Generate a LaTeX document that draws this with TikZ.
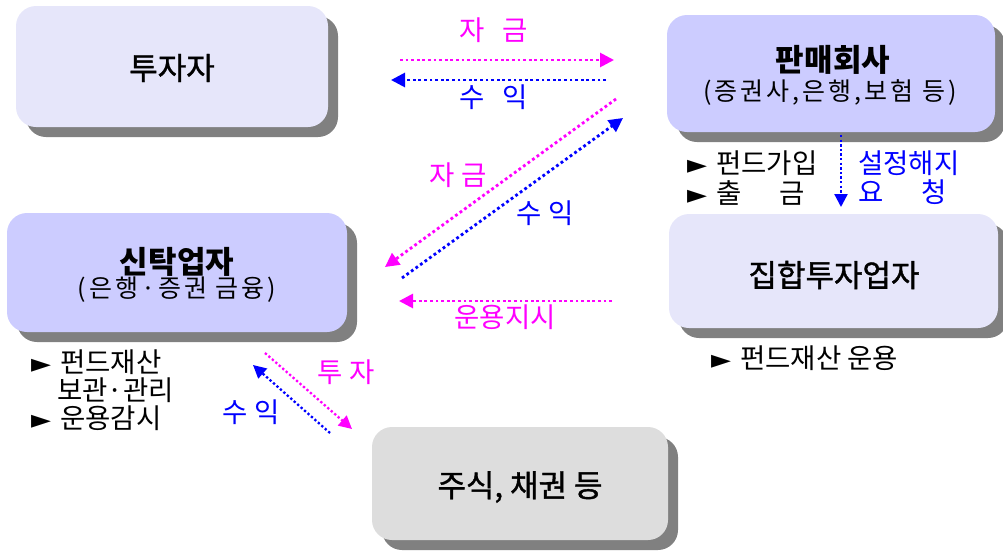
\documentclass[tikz,border=0pt]{standalone}
\usepackage{fontspec}
\setmainfont{Noto Sans CJK KR}
\newfontfamily\krmed[FakeBold=1.2]{Noto Sans CJK KR}
\newfontfamily\subf[LetterSpace=12]{Noto Sans CJK KR}
\newfontfamily\symf{DejaVu Sans}
\usetikzlibrary{arrows.meta,shadows}
\definecolor{lav}{RGB}{230,230,250}
\definecolor{peri}{RGB}{204,204,255}
\definecolor{lgray}{RGB}{221,221,221}
\definecolor{shad}{RGB}{128,128,128}
\definecolor{mag}{RGB}{255,0,255}
\definecolor{blu}{RGB}{0,0,255}
\newcommand{\bul}{{\symf\fontsize{26}{28}\selectfont ►}}
\begin{document}
\begin{tikzpicture}[x=1pt,y=-1pt,
  box/.style={rounded corners=20pt, inner sep=0pt,
    general shadow={fill=shad, shadow xshift=10pt, shadow yshift=-10pt}},
  ttl/.style={inner sep=0pt, font=\krmed\fontsize{31}{34}\selectfont},
  btl/.style={inner sep=0pt, font=\bfseries\fontsize{31}{34}\selectfont},
  sub/.style={inner sep=0pt, font=\subf\fontsize{25}{28}\selectfont},
  lab/.style={inner sep=0pt, font=\fontsize{27.5}{30}\selectfont},
  note/.style={inner sep=0pt, anchor=west, font=\fontsize{27.5}{30}\selectfont},
  arr/.style={line width=2.8pt, dash pattern=on 2.8pt off 2.8pt,
    -{Triangle[length=14pt,width=14pt]}},
  arrs/.style={line width=2.3pt, dash pattern=on 2.3pt off 2.3pt,
    -{Triangle[length=13pt,width=13pt]}}
]
\useasboundingbox (0,0) rectangle (1003,552);
\clip (0,0) rectangle (1003,552);

% boxes
\node[box, fill=lav, minimum width=312pt, minimum height=121pt] (inv) at (172,66.5) {};
\node[box, fill=peri, minimum width=328pt, minimum height=117pt] (sales) at (831,73.5) {};
\node[box, fill=peri, minimum width=340pt, minimum height=119pt] (trust) at (177,272.5) {};
\node[box, fill=lav, minimum width=329pt, minimum height=114pt] (cim) at (833.5,271) {};
\node[box, fill=lgray, minimum width=296pt, minimum height=113pt] (sec) at (520,483.5) {};

% box texts
\node[ttl] (invT) at (172,68) {투자자};
\node[btl] (salesT) at (833,60) {판매회사};
\node[sub] (salesS) at (830,93) {(증권사,은행,보험 등)};
\node[btl] (trustT) at (177,262) {신탁업자};
\node[sub] (trustS) at (177,290) {(은행·증권 금융)};
\node[ttl] (cimT) at (834,275) {집합투자업자};
\node[ttl] (secT) at (520,487) {주식, 채권 등};

% connector end points
\coordinate (p1s) at (400,60);  \coordinate (p1e) at (614,60);
\coordinate (p2s) at (606,80);  \coordinate (p2e) at (391,80);
\coordinate (p3s) at (616,99);  \coordinate (p3e) at (385,267);
\coordinate (p4s) at (402,278); \coordinate (p4e) at (623,118);
\coordinate (p5s) at (612,301); \coordinate (p5e) at (399,301);
\coordinate (p6s) at (841,135); \coordinate (p6e) at (841,207);
\coordinate (p7s) at (265,353); \coordinate (p7e) at (352,429);
\coordinate (p8s) at (330,433); \coordinate (p8e) at (253,365);

\draw[arr, mag] (p1s) -- (p1e);
\draw[arr, blu] (p2s) -- (p2e);
\draw[arr, mag] (p3s) -- (p3e);
\draw[arr, blu] (p4s) -- (p4e);
\draw[arr, mag] (p5s) -- (p5e);
\draw[arrs, blu] (p6s) -- (p6e);
\draw[arrs, mag] (p7s) -- (p7e);
\draw[arrs, blu] (p8s) -- (p8e);

% connector labels
\node[lab, mag, execute at begin node={\spaceskip=17pt\relax}] (l1) at (493.5,30) {자 금};
\node[lab, blu, execute at begin node={\spaceskip=17pt\relax}] (l2) at (493.5,97) {수 익};
\node[lab, mag, execute at begin node={\spaceskip=7pt\relax}] (l3) at (458,175) {자 금};
\node[lab, blu, execute at begin node={\spaceskip=7pt\relax}] (l4) at (545,213) {수 익};
\node[lab, mag] (l5) at (505,317) {운용지시};
\node[lab, mag, execute at begin node={\spaceskip=7pt\relax}] (l6) at (346,372) {투 자};
\node[lab, blu, execute at begin node={\spaceskip=7pt\relax}] (l7) at (251,412) {수 익};
\node[note, blu] (l8) at (858,163) {설정해지};
\node[note, blu] (l9) at (858,192) {요\hspace{38pt}청};

% side notes
\node[note] (n1) at (687,163) {\bul\hspace{9pt}펀드가입};
\node[note] (n2) at (687,193) {\bul\hspace{9pt}출\hspace{38pt}금};
\node[note] (n3) at (711,358) {\bul\hspace{9pt}펀드재산 운용};
\node[note] (n4) at (31,362) {\bul\hspace{9pt}펀드재산};
\node[note] (n5) at (57,390) {보관·관리};
\node[note] (n6) at (31,418) {\bul\hspace{9pt}운용감시};
\end{tikzpicture}
\end{document}
